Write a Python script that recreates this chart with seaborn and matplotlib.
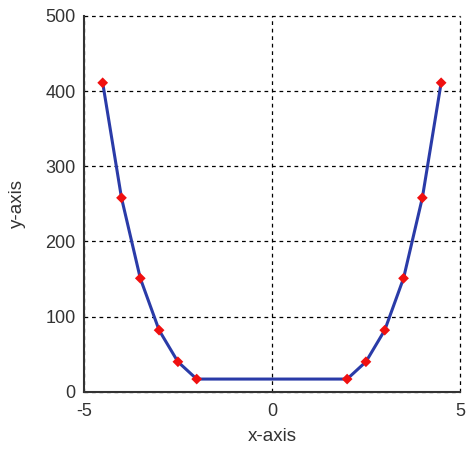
import matplotlib
matplotlib.use("Agg")
import matplotlib.pyplot as plt
import seaborn as sns
import pandas as pd

x_left = [-4.5, -4.0, -3.5, -3.0, -2.5, -2.0]
y_left = [411, 258, 151, 82, 40, 17]
x_right = [2.0, 2.5, 3.0, 3.5, 4.0, 4.5]
y_right = [17, 40, 82, 151, 258, 411]
x_ticks = [-5, 0, 5]
y_ticks = [0, 100, 200, 300, 400, 500]

sns.set_style("white")
plt.rcParams['font.family'] = ['Liberation Sans', 'DejaVu Sans']

df = pd.DataFrame({"x": x_left + x_right, "y": y_left + y_right})

fig = plt.figure(figsize=(4.66, 4.53), dpi=100)
ax = fig.add_axes([0.180, 0.135, 0.807, 0.830])

sns.lineplot(data=df, x="x", y="y", ax=ax, color="#2a3ba8", linewidth=2.2,
             estimator=None, sort=True, zorder=3)
sns.scatterplot(data=df, x="x", y="y", ax=ax, color="#f01010", marker="D",
                s=30, edgecolor="none", zorder=4)

ax.set_xlim(-5, 5)
ax.set_ylim(0, 500)
ax.set_xticks(x_ticks)
ax.set_yticks(y_ticks)
ax.set_xticklabels([str(v) for v in x_ticks], fontsize=13)
ax.set_yticklabels([str(v) for v in y_ticks], fontsize=13)
ax.grid(True, color="black", linestyle=(0, (3, 3)), linewidth=0.9)
for gl in ax.get_xgridlines() + ax.get_ygridlines():
    gl.set_clip_on(False)
ax.set_axisbelow(True)
ax.tick_params(length=0, colors="#333333")
ax.tick_params(axis="x", pad=8)
ax.tick_params(axis="y", pad=6)
for s in ["top", "right"]:
    ax.spines[s].set_visible(False)
for s in ["left", "bottom"]:
    ax.spines[s].set_color("#333333")
    ax.spines[s].set_linewidth(1.5)
ax.set_xlabel("x-axis", fontsize=13.5, color="#333333", labelpad=6)
ax.set_ylabel("y-axis", fontsize=13.5, color="#333333", labelpad=14)

fig.savefig("out.png", dpi=100)
